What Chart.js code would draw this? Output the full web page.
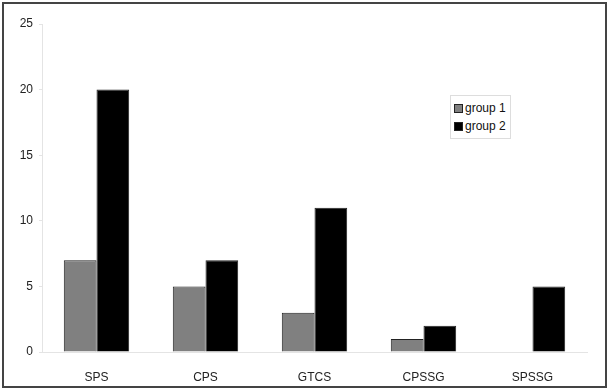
<!DOCTYPE html>
<html lang="en">
  <head>
    <meta charset="UTF-8" />
    <script src="https://cdn.jsdelivr.net/npm/chart.js"></script>
    <title>Groups</title>
    <style>
      body { margin: 0; background: #fff; }
      #box {
        position: absolute; left: 2px; top: 2px;
        width: 601px; height: 382px;
        border: 2px solid #444;
      }
      #legend {
        position: absolute; left: 446px; top: 91px;
        width: 56px; padding: 3px 0 3px 3px;
        border: 1px solid #ddd; background: #fff;
        font: 12px "Liberation Sans", Arial, sans-serif; color: #111;
      }
      #legend div { height: 18px; line-height: 18px; white-space: nowrap; }
      #legend span {
        display: inline-block; width: 7px; height: 7px;
        border: 1px solid #222; margin-right: 2px; vertical-align: -1px;
      }
    </style>
  </head>
  <body>
    <div id="box">
      <canvas id="grafico" width="601" height="382"></canvas>
      <div id="legend"></div>
    </div>

    <script>
      const categorias = ["SPS", "CPS", "GTCS", "CPSSG", "SPSSG"];
      const grupo1 = [7, 5, 3, 1, 0];
      const grupo2 = [20, 7, 11, 2, 5];
      const ticksY = [0, 5, 10, 15, 20, 25];

      const series = [
        { label: "group 1", data: grupo1, cor: "#808080" },
        { label: "group 2", data: grupo2, cor: "#000000" },
      ];

      const ctx = document.getElementById("grafico");
      new Chart(ctx, {
        type: "bar",
        data: {
          labels: categorias,
          datasets: series.map((s) => ({
            label: s.label,
            data: s.data,
            backgroundColor: s.cor,
            borderColor: "#222",
            borderWidth: 1,
            categoryPercentage: 0.6,
            barPercentage: 1.0,
          })),
        },
        options: {
          responsive: false,
          animation: false,
          layout: { padding: { top: 20, right: 18, left: 0, bottom: 0 } },
          plugins: { legend: { display: false }, tooltip: { enabled: false } },
          scales: {
            x: {
              grid: { display: false },
              border: { color: "#e4e4e4" },
              ticks: { color: "#222", padding: 10, font: { family: "Liberation Sans", size: 12 } },
              afterFit: (s) => { s.height = 34; },
            },
            y: {
              min: 0,
              max: 25,
              afterBuildTicks: (s) => { s.ticks = ticksY.map((v) => ({ value: v })); },
              grid: { drawOnChartArea: false, tickLength: 3, color: "#e4e4e4" },
              border: { color: "#e4e4e4" },
              ticks: { color: "#222", padding: 6, font: { family: "Liberation Sans", size: 12 } },
              afterFit: (s) => { s.width = 38; },
            },
          },
        },
      });

      // legenda em HTML
      const leg = document.getElementById("legend");
      series.forEach((s) => {
        const d = document.createElement("div");
        d.innerHTML = '<span style="background:' + s.cor + '"></span>' + s.label;
        leg.appendChild(d);
      });
    </script>
  </body>
</html>
